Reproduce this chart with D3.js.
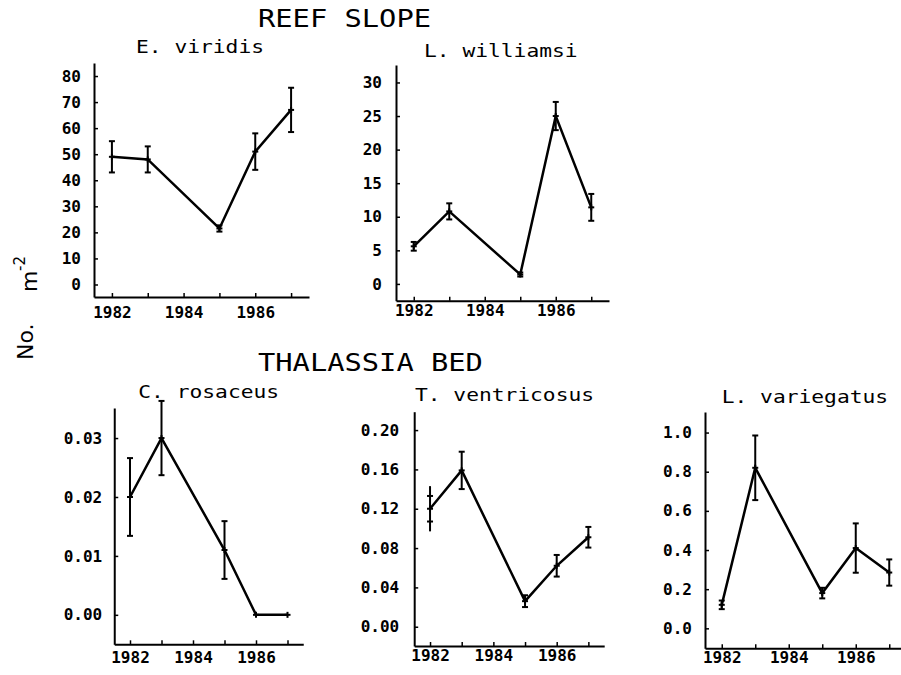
<!DOCTYPE html>
<html>
<head>
<meta charset="utf-8">
<script src="https://cdn.jsdelivr.net/npm/d3@7"></script>
<style>
  html, body { margin: 0; padding: 0; background: #fff; }
  svg { display: block; }
</style>
</head>
<body>
<svg id="chart" width="901" height="675"></svg>
<script>
// ---------------- DATA ----------------
const years = [1982, 1983, 1985, 1986, 1987];
const xTickYears = [1982, 1983, 1984, 1985, 1986, 1987];
const xTickLabels = ["1982", "", "1984", "", "1986", ""];

const groupTitles = ["REEF SLOPE", "THALASSIA BED"];
const speciesNames = ["E. viridis", "L. williamsi", "C. rosaceus", "T. ventricosus", "L. variegatus"];

const viridisMean = [49, 48, 21.5, 51, 67];
const viridisErr  = [6, 5, 1.2, 7, 8.5];
const viridisTicks = [0, 10, 20, 30, 40, 50, 60, 70, 80];
const viridisTickLabels = ["0", "10", "20", "30", "40", "50", "60", "70", "80"];

const williamsiMean = [5.6, 10.8, 1.4, 25, 11.4];
const williamsiErr  = [0.65, 1.2, 0.3, 2.1, 2.0];
const williamsiTicks = [0, 5, 10, 15, 20, 25, 30];
const williamsiTickLabels = ["0", "5", "10", "15", "20", "25", "30"];

const rosaceusMean = [0.020, 0.030, 0.011, 0, 0];
const rosaceusErr  = [0.0066, 0.0063, 0.0049, 0, 0];
const rosaceusTicks = [0, 0.01, 0.02, 0.03];
const rosaceusTickLabels = ["0.00", "0.01", "0.02", "0.03"];

const ventricosusMean = [0.12, 0.159, 0.026, 0.062, 0.091];
const ventricosusErr  = [0.013, 0.019, 0.006, 0.011, 0.0105];
const ventricosusWhisker = [0.023, 0, 0, 0, 0];
const ventricosusTicks = [0, 0.04, 0.08, 0.12, 0.16, 0.20];
const ventricosusTickLabels = ["0.00", "0.04", "0.08", "0.12", "0.16", "0.20"];

const variegatusMean = [0.12, 0.82, 0.18, 0.41, 0.285];
const variegatusErr  = [0.022, 0.165, 0.027, 0.126, 0.067];
const variegatusTicks = [0, 0.2, 0.4, 0.6, 0.8, 1.0];
const variegatusTickLabels = ["0.0", "0.2", "0.4", "0.6", "0.8", "1.0"];

// ---------------- LAYOUT ----------------
const panels = [
  { name: speciesNames[0], mean: viridisMean, err: viridisErr, ticks: viridisTicks, labels: viridisTickLabels,
    xr: [94, 309], yd: [-4.8, 85], yr: [297, 63], xPad: 10, yPad: 13,
    tx: 136, ty: 52.7, tl: 128 },
  { name: speciesNames[1], mean: williamsiMean, err: williamsiErr, ticks: williamsiTicks, labels: williamsiTickLabels,
    xr: [396, 609], yd: [-2.5, 32.6], yr: [300.7, 65], xPad: 3.5, yPad: 14,
    tx: 424, ty: 56.7, tl: 153.6 },
  { name: speciesNames[2], mean: rosaceusMean, err: rosaceusErr, ticks: rosaceusTicks, labels: rosaceusTickLabels,
    xr: [114.25, 303.25], yd: [-0.005, 0.0351], yr: [644.3, 408], xPad: 7, yPad: 12,
    tx: 138.3, ty: 398.3, tl: 140.8 },
  { name: speciesNames[3], mean: ventricosusMean, err: ventricosusErr, whisker: ventricosusWhisker,
    ticks: ventricosusTicks, labels: ventricosusTickLabels,
    xr: [414.2, 604.2], yd: [-0.0196, 0.2187], yr: [646, 411.7], xPad: 4, yPad: 15,
    tx: 415, ty: 400.7, tl: 179 },
  { name: speciesNames[4], mean: variegatusMean, err: variegatusErr, ticks: variegatusTicks, labels: variegatusTickLabels,
    xr: [705, 906], yd: [-0.102, 1.105], yr: [648.3, 412], xPad: 3.5, yPad: 13,
    tx: 721.7, ty: 402.7, tl: 166.4 }
];

const svg = d3.select("#chart");
const MONO = "'DejaVu Sans Mono', 'Liberation Mono', monospace";

// Group titles
[[groupTitles[0], 258, 26.7], [groupTitles[1], 258, 371]].forEach(([t, x, y]) => {
  svg.append("text")
    .attr("x", x).attr("y", y)
    .attr("font-family", MONO)
    .attr("font-size", 24.5)
    .attr("textLength", t.length * 17.3)
    .attr("lengthAdjust", "spacingAndGlyphs")
    .attr("fill", "#000")
    .text(t);
});

// Y axis label "No. m^-2"
const ylab = svg.append("g").attr("font-family", "'DejaVu Sans', 'Liberation Sans', sans-serif").attr("fill", "#000");
ylab.append("text").attr("transform", "translate(33,360) rotate(-90)").attr("font-size", 22).text("No.");
ylab.append("text").attr("transform", "translate(37,292) rotate(-90)").attr("font-size", 22).text("m");
ylab.append("text").attr("transform", "translate(25,271) rotate(-90)").attr("font-size", 15).text("-2");

panels.forEach(p => {
  const x = d3.scaleLinear().domain([1981.5, 1987.5]).range(p.xr);
  const y = d3.scaleLinear().domain(p.yd).range(p.yr);
  const g = svg.append("g");

  // subtitle
  g.append("text")
    .attr("x", p.tx).attr("y", p.ty)
    .attr("font-family", MONO)
    .attr("font-size", 17.5)
    .attr("textLength", p.tl)
    .attr("lengthAdjust", "spacingAndGlyphs")
    .attr("fill", "#000")
    .text(p.name);

  // y axis
  const yAxis = d3.axisLeft(y)
    .tickValues(p.ticks)
    .tickFormat((d, i) => p.labels[i])
    .tickSizeInner(-4).tickSizeOuter(0).tickPadding(p.yPad);
  const ya = g.append("g").attr("transform", `translate(${p.xr[0]},0)`).call(yAxis);

  // x axis
  const xAxis = d3.axisBottom(x)
    .tickValues(xTickYears)
    .tickFormat((d, i) => xTickLabels[i])
    .tickSizeInner(-4).tickSizeOuter(0).tickPadding(p.xPad);
  const xa = g.append("g").attr("transform", `translate(0,${p.yr[0]})`).call(xAxis);

  [ya, xa].forEach(a => {
    a.select(".domain").attr("stroke", "#000").attr("stroke-width", 2);
    a.selectAll(".tick line").attr("stroke", "#000").attr("stroke-width", 1.5);
    a.selectAll(".tick text")
      .attr("font-family", MONO)
      .attr("font-weight", "bold")
      .attr("font-size", 16)
      .attr("fill", "#000");
  });

  // data line
  const line = d3.line().x((d, i) => x(years[i])).y(d => y(d));
  g.append("path")
    .datum(p.mean)
    .attr("d", line)
    .attr("fill", "none")
    .attr("stroke", "#000")
    .attr("stroke-width", 2.5)
    .attr("stroke-linejoin", "miter");

  // error bars
  const cap = 3;
  p.mean.forEach((m, i) => {
    const cx = x(years[i]);
    const e = p.err[i];
    const w = p.whisker ? p.whisker[i] : 0;
    const ext = Math.max(e, w);
    if (ext > 0) {
      g.append("line").attr("x1", cx).attr("x2", cx)
        .attr("y1", y(m - ext)).attr("y2", y(m + ext))
        .attr("stroke", "#000").attr("stroke-width", 2);
    }
    if (e > 0) {
      [m - e, m + e].forEach(v => {
        g.append("line").attr("x1", cx - cap).attr("x2", cx + cap)
          .attr("y1", y(v)).attr("y2", y(v))
          .attr("stroke", "#000").attr("stroke-width", 2);
      });
    }
    // point marker (+)
    g.append("line").attr("x1", cx - 3).attr("x2", cx + 3)
      .attr("y1", y(m)).attr("y2", y(m))
      .attr("stroke", "#000").attr("stroke-width", 2);
    g.append("line").attr("x1", cx).attr("x2", cx)
      .attr("y1", y(m) - 3).attr("y2", y(m) + 3)
      .attr("stroke", "#000").attr("stroke-width", 2);
  });
});
</script>
</body>
</html>
